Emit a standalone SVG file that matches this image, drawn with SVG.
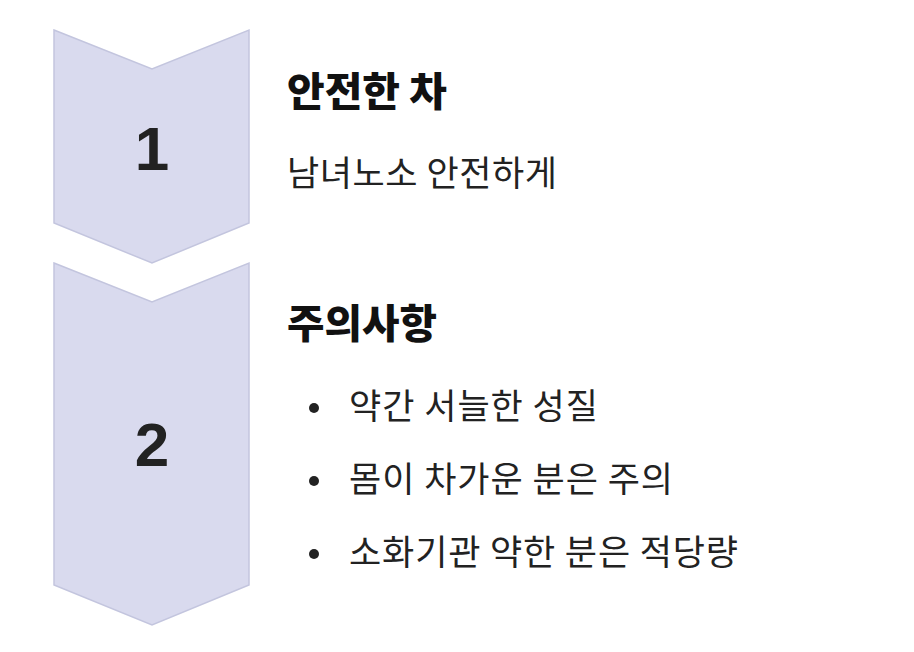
<svg xmlns="http://www.w3.org/2000/svg" width="914" height="652" viewBox="0 0 914 652">
<style>
.chev{fill:#d9daee;stroke:#c3c5de;stroke-width:1.5}
.num{font-family:"Liberation Sans",Arial,sans-serif;font-weight:bold;font-size:62px;fill:#222;text-anchor:middle}
.h{font-family:"Noto Sans CJK KR",sans-serif;font-weight:900;font-size:40px;fill:#111}
.t{font-family:"Noto Sans CJK KR",sans-serif;font-size:35px;fill:#222}
</style>
<rect width="914" height="652" fill="#fff"/>
<g id="step1">
<polygon class="chev" points="54,30 152,69 249,30 249,223 152,263 54,223"/>
<text class="num" x="152" y="170">1</text>
<text class="h" x="287" y="106" textLength="160" lengthAdjust="spacingAndGlyphs">안전한 차</text>
<text class="t" x="287" y="186" textLength="270">남녀노소 안전하게</text>
</g>
<g id="step2">
<polygon class="chev" points="54,263 152,302 249,263 249,585 152,625 54,585"/>
<text class="num" x="152" y="466">2</text>
<text class="h" x="287" y="338" textLength="150" lengthAdjust="spacingAndGlyphs">주의사항</text>
<circle cx="314" cy="408" r="5" fill="#222"/>
<text class="t" x="349" y="419" textLength="249">약간 서늘한 성질</text>
<circle cx="314" cy="481" r="5" fill="#222"/>
<text class="t" x="349" y="492" textLength="324">몸이 차가운 분은 주의</text>
<circle cx="314" cy="554" r="5" fill="#222"/>
<text class="t" x="349" y="565" textLength="389">소화기관 약한 분은 적당량</text>
</g>
<g id="connectors"/>
</svg>
